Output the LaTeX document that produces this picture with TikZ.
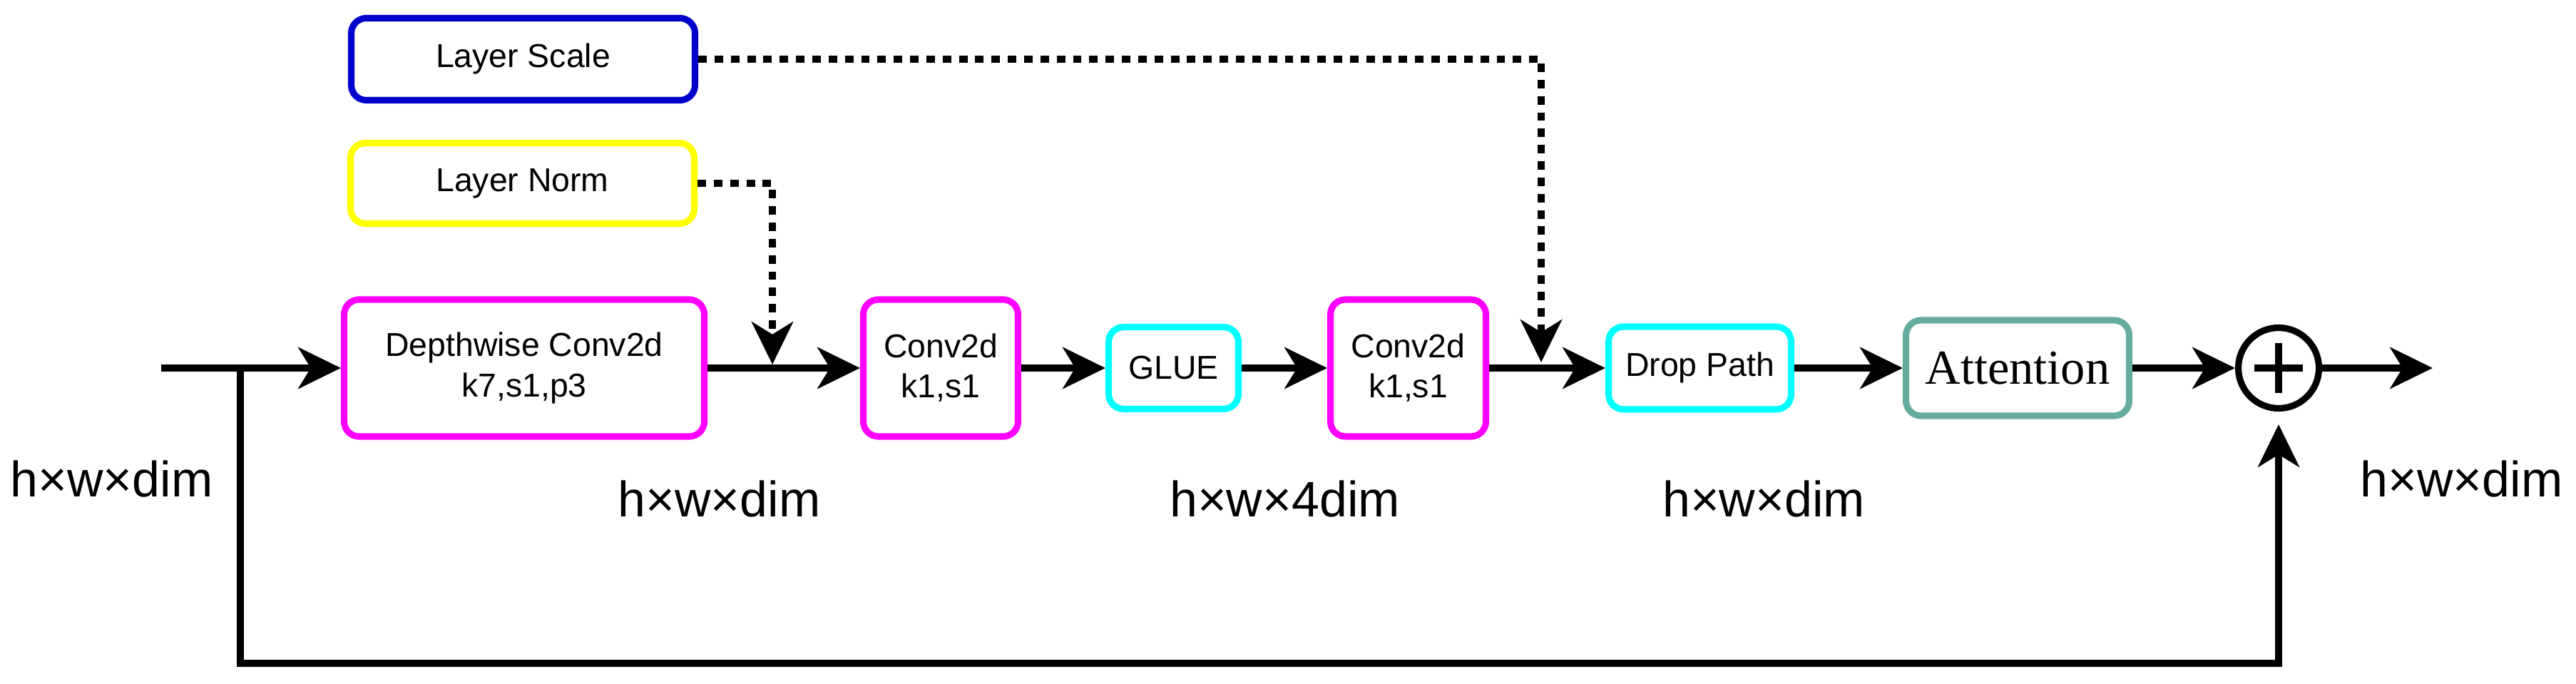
\documentclass[tikz,border=0pt]{standalone}
\usepackage{fontspec}
\setmainfont{Liberation Sans}
\newfontfamily\attnfont{Liberation Serif}
\usetikzlibrary{arrows.meta}
\usetikzlibrary{calc}

\definecolor{scaleblue}{HTML}{0000CC}
\definecolor{normyellow}{HTML}{FFFF00}
\definecolor{convpink}{HTML}{FF00FF}
\definecolor{actcyan}{HTML}{00FFFF}
\definecolor{attgreen}{HTML}{67AB9F}

\begin{document}
\begin{tikzpicture}[
    block/.style={draw, line width=2.6pt, rounded corners=6pt, fill=white, align=center,
      inner sep=0pt, font=\fontsize{13.2}{16}\selectfont},
    flow/.style={line width=2.6pt, -{Stealth[length=17pt,width=16.5pt,inset=5pt]}},
    dotflow/.style={flow, dash pattern=on 3.4pt off 3.1pt},
    dimlabel/.style={anchor=base, font=\fontsize{19.9}{24}\selectfont}
  ]
    \useasboundingbox (0,0) rectangle (36.12,9.59);

    % side inputs
    \node[block, draw=scaleblue, minimum width=4.82cm, minimum height=1.15cm] (ls) at (7.335,8.76) {Layer Scale};
    \node[block, draw=normyellow, minimum width=4.82cm, minimum height=1.13cm] (ln) at (7.325,7.02) {Layer Norm};

    % main row
    \node[block, draw=convpink, minimum width=5.05cm, minimum height=1.92cm] (dw) at (7.35,4.43) {Depthwise Conv2d\\k7,s1,p3};
    \node[block, draw=convpink, minimum width=2.17cm, minimum height=1.92cm] (convA) at (13.19,4.43) {Conv2d\\k1,s1};
    \node[block, draw=actcyan, minimum width=1.82cm, minimum height=1.15cm] (glue) at (16.455,4.43) {GLUE};
    \node[block, draw=convpink, minimum width=2.18cm, minimum height=1.92cm] (convB) at (19.745,4.43) {Conv2d\\k1,s1};
    \node[block, draw=actcyan, minimum width=2.56cm, minimum height=1.16cm] (drop) at (23.835,4.43) {Drop Path};
    \node[block, draw=attgreen, minimum width=3.13cm, minimum height=1.34cm,
      font=\attnfont\fontsize{19.5}{23}\selectfont] (att) at (28.29,4.43) {Attention};
    \node[draw, circle, line width=2.6pt, minimum size=1.13cm, inner sep=0pt] (sum) at (31.95,4.43) {};
    \draw[line width=2.6pt] ($(sum.center)+(-0.34,0)$) -- ($(sum.center)+(0.34,0)$);
    \draw[line width=2.6pt] ($(sum.center)+(0,-0.35)$) -- ($(sum.center)+(0,0.35)$);

    % free ends
    \coordinate (in) at (2.26,4.43);
    \coordinate (split) at (3.37,4.43);
    \coordinate (out) at (34.11,4.43);
    \coordinate (skip) at (31.95,0.29);
    \coordinate (lnjoin) at (10.83,4.48);
    \coordinate (lsjoin) at (21.61,4.51);

    % connectors
    \draw[flow] (in) -- (dw.west);
    \draw[flow] (dw.east) -- (convA.west);
    \draw[flow] (convA.east) -- (glue.west);
    \draw[flow] (glue.east) -- (convB.west);
    \draw[flow] (convB.east) -- (drop.west);
    \draw[flow] (drop.east) -- (att.west);
    \draw[flow] (att.east) -- (sum.west);
    \draw[flow] (sum.east) -- (out);
    \draw[flow, shorten >=0.18cm] (split) |- (skip) -- (sum.south);
    \draw[dotflow] (ln.east) -| (lnjoin);
    \draw[dotflow] (ls.east) -| (lsjoin);

    % tensor sizes
    \node[dimlabel] (dimin) at (1.565,2.62) {h×w×dim};
    \node[dimlabel] (dimdw) at (10.085,2.34) {h×w×dim};
    \node[dimlabel] (dimglue) at (18.015,2.34) {h×w×4dim};
    \node[dimlabel] (dimdrop) at (24.73,2.34) {h×w×dim};
    \node[dimlabel] (dimout) at (34.515,2.62) {h×w×dim};
\end{tikzpicture}
\end{document}
